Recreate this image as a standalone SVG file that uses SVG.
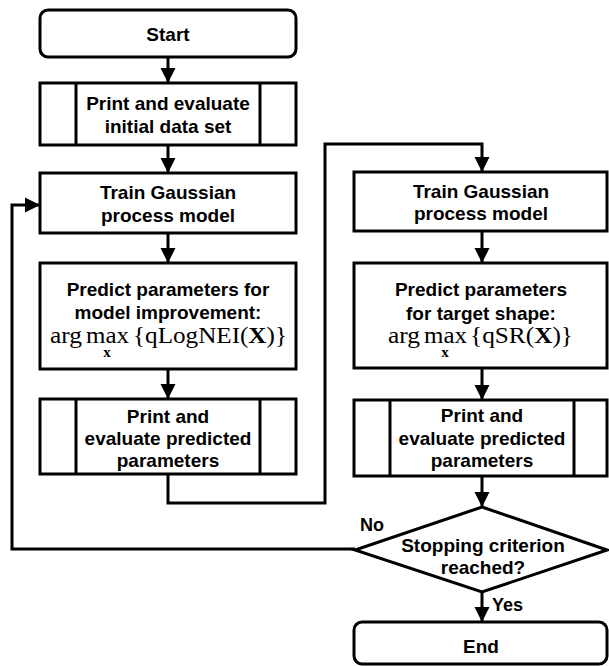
<svg xmlns="http://www.w3.org/2000/svg" width="609" height="666" viewBox="0 0 609 666">
<style>
.box{fill:#fff;stroke:#000;stroke-width:3}
.ln{fill:none;stroke:#000;stroke-width:3}
.t{font-family:"Liberation Sans",Arial,sans-serif;font-weight:bold;font-size:19px;fill:#000;text-anchor:middle}
.lbl{font-family:"Liberation Sans",Arial,sans-serif;font-weight:bold;font-size:18px;fill:#000}
.m{font-family:"Liberation Serif","Times New Roman",serif;font-size:23px;fill:#000}
.sub{font-family:"Liberation Serif","Times New Roman",serif;font-size:15px;font-weight:bold;fill:#000;text-anchor:middle}
</style>
<defs>
<marker id="ah" markerUnits="userSpaceOnUse" markerWidth="16" markerHeight="16" viewBox="0 0 16 16" refX="15" refY="8" orient="auto">
<path d="M0,0.5 L15,8 L0,15.5 Z" fill="#000"/>
</marker>
</defs>
<g id="connectors">
<path class="ln" d="M168 57 V83" marker-end="url(#ah)"/>
<path class="ln" d="M168 145 V173" marker-end="url(#ah)"/>
<path class="ln" d="M168 233 V263" marker-end="url(#ah)"/>
<path class="ln" d="M168 369 V399" marker-end="url(#ah)"/>
<path class="ln" d="M168 474 V503 H325 V144 H482 V172" marker-end="url(#ah)"/>
<path class="ln" d="M482 231 V263" marker-end="url(#ah)"/>
<path class="ln" d="M482 368 V400" marker-end="url(#ah)"/>
<path class="ln" d="M482 476 V507" marker-end="url(#ah)"/>
<path class="ln" d="M482 592 V622" marker-end="url(#ah)"/>
<path class="ln" d="M355 549 H12 V205 H40" marker-end="url(#ah)"/>
<text class="lbl" x="360" y="531">No</text>
<text class="lbl" x="492" y="611">Yes</text>
</g>
<g id="start">
<rect class="box" x="40" y="10" width="256" height="47" rx="8"/>
<text class="t" x="168" y="41">Start</text>
</g>
<g id="print-initial">
<rect class="box" x="40" y="83" width="256" height="62"/>
<path class="ln" d="M76 83 V145 M260 83 V145"/>
<text class="t" x="168" y="110">Print and evaluate</text>
<text class="t" x="168" y="133">initial data set</text>
</g>
<g id="train-left">
<rect class="box" x="40" y="173" width="256" height="60"/>
<text class="t" x="168" y="199">Train Gaussian</text>
<text class="t" x="168" y="222">process model</text>
</g>
<g id="predict-left">
<rect class="box" x="40" y="263" width="256" height="106"/>
<text class="t" x="168" y="296">Predict parameters for</text>
<text class="t" x="168" y="319">model improvement:</text>
<text class="m" x="50" y="343" textLength="32" lengthAdjust="spacingAndGlyphs">arg</text>
<text class="m" x="86" y="343" textLength="43" lengthAdjust="spacingAndGlyphs">max</text>
<text class="sub" x="107" y="357">x</text>
<text class="m" x="133" y="343" textLength="154" lengthAdjust="spacingAndGlyphs">{qLogNEI(<tspan font-weight="bold">X</tspan>)}</text>
</g>
<g id="print-left">
<rect class="box" x="40" y="399" width="256" height="75"/>
<path class="ln" d="M76 399 V474 M260 399 V474"/>
<text class="t" x="168" y="423">Print and</text>
<text class="t" x="168" y="445">evaluate predicted</text>
<text class="t" x="168" y="467">parameters</text>
</g>
<g id="train-right">
<rect class="box" x="354" y="172" width="253" height="59"/>
<text class="t" x="481" y="198">Train Gaussian</text>
<text class="t" x="481" y="220">process model</text>
</g>
<g id="predict-right">
<rect class="box" x="354" y="263" width="253" height="105"/>
<text class="t" x="481" y="296">Predict parameters</text>
<text class="t" x="481" y="320">for target shape:</text>
<text class="m" x="388" y="343" textLength="32" lengthAdjust="spacingAndGlyphs">arg</text>
<text class="m" x="424" y="343" textLength="43" lengthAdjust="spacingAndGlyphs">max</text>
<text class="sub" x="445" y="357">x</text>
<text class="m" x="470" y="343" textLength="103" lengthAdjust="spacingAndGlyphs">{qSR(<tspan font-weight="bold">X</tspan>)}</text>
</g>
<g id="print-right">
<rect class="box" x="354" y="400" width="253" height="76"/>
<path class="ln" d="M390 400 V476 M574 400 V476"/>
<text class="t" x="482" y="422">Print and</text>
<text class="t" x="482" y="445">evaluate predicted</text>
<text class="t" x="482" y="467">parameters</text>
</g>
<g id="decision">
<polygon class="box" points="482,507 607,550 482,592 355,550"/>
<text class="t" x="483" y="552">Stopping criterion</text>
<text class="t" x="483" y="574">reached?</text>
</g>
<g id="end">
<rect class="box" x="354" y="622" width="253" height="42" rx="8"/>
<text class="t" x="481" y="653">End</text>
</g>
</svg>
